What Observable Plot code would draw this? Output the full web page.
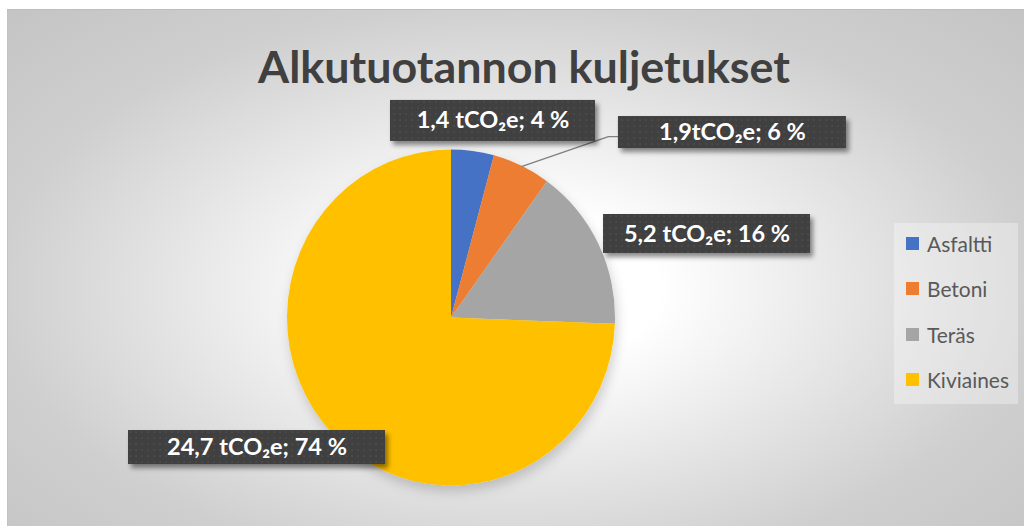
<!DOCTYPE html>
<html>
<head>
<meta charset="utf-8">
<script src="https://cdn.jsdelivr.net/npm/d3@7"></script>
<script src="https://cdn.jsdelivr.net/npm/@observablehq/plot@0.6"></script>
<style>
  html, body { margin: 0; padding: 0; background: #ffffff; width: 1024px; height: 526px; overflow: hidden; }
  #panel {
    position: absolute; left: 7px; top: 9px; width: 1017px; height: 517px;
    background: radial-gradient(ellipse farthest-corner at 50% 54%, #ffffff 0%, #ffffff 20%, #e3e3e3 50%, #cfcfcf 72%, #c4c4c4 100%);
    box-shadow: inset 0 1px 0 #bdbdbd, inset 1px 0 0 #c2c2c2;
  }
  #title {
    position: absolute; top: 30px; white-space: nowrap;
    font-family: Lato, "Noto Sans", sans-serif; font-weight: bold; color: #404040;
    transform: translateX(-50%);
  }
  #chart { position: absolute; left: 0; top: 0; }
  #legend {
    position: absolute; left: 887px; top: 214px; width: 124px; height: 181px;
    background: rgba(255,255,255,0.32);
  }
  .li { position: absolute; left: 0; height: 24px; line-height: 24px; white-space: nowrap;
        font-family: Lato, "Noto Sans", sans-serif; color: #595959; }
  .sw { position: absolute; left: 12px; top: 5px; width: 13px; height: 13px; }
  .lt { position: absolute; left: 33px; top: 0; }
</style>
</head>
<body>
<svg width="0" height="0" style="position:absolute">
  <defs>
    <pattern id="dots" width="6" height="6" patternUnits="userSpaceOnUse">
      <rect width="6" height="6" fill="#404040"></rect>
      <rect x="2.5" y="2.5" width="1.2" height="1.2" fill="#575757"></rect>
    </pattern>
    <filter id="boxShadow" x="-10%" y="-30%" width="130%" height="190%">
      <feDropShadow dx="3" dy="4" stdDeviation="2.5" flood-color="#000" flood-opacity="0.45"></feDropShadow>
    </filter>
    <filter id="pieShadow" x="-20%" y="-20%" width="140%" height="150%">
      <feDropShadow dx="2" dy="6" stdDeviation="6" flood-color="#000" flood-opacity="0.18"></feDropShadow>
    </filter>
  </defs>
</svg>
<div id="panel">
  <div id="title">Alkutuotannon kuljetukset</div>
  <div id="chart"></div>
  <div id="legend"></div>
</div>
<script>
// ---- data ----
const categories = ["Asfaltti", "Betoni", "Teräs", "Kiviaines"];
const values = [1.4, 1.9, 5.2, 24.7];
const valueLabels = ["1,4 tCO₂e; 4 %", "1,9tCO₂e; 6 %", "5,2 tCO₂e; 16 %", "24,7 tCO₂e; 74 %"];
const colors = ["#4472C4", "#ED7D31", "#A5A5A5", "#FFC000"];
const titleText = "Alkutuotannon kuljetukset";

// ---- layout (pixels / pie-radius units) ----
const pie = { cx: 444, cy: 308.5, rx: 164, ry: 168 };
// label box centres in pie-radius units, sizes in px
const labelPos = [[0.253, 1.173], [1.713, 1.104], [1.558, 0.500], [-1.186, -0.771]];
const labelSize = [[205, 41], [228, 32], [207, 39], [257, 34]];
const FONT = 'Lato, "Noto Sans", sans-serif';

function fitSize(text, weight, target) {
  const c = document.createElement("canvas").getContext("2d");
  c.font = `${weight} 100px ${FONT}`;
  return 100 * target / c.measureText(text).width;
}

// title
const title = document.getElementById("title");
title.style.fontSize = fitSize(titleText, "bold", 532) + "px";
title.style.left = "517px";

// rows
const rows = categories.map((c, i) => ({ category: c, value: values[i], label: valueLabels[i] }));
const arcs = d3.pie().sort(null).value(d => d.value)(rows);

const labelRows = rows.map((r, i) => {
  const [lx, ly] = labelPos[i];
  const [w, h] = labelSize[i];
  return { ...r, lx, ly,
    x1: lx - w / 2 / pie.rx, x2: lx + w / 2 / pie.rx,
    y1: ly - h / 2 / pie.ry, y2: ly + h / 2 / pie.ry };
});

// leader line for Betoni
const b = arcs[1];
const bMid = (b.startAngle + b.endAngle) / 2;
const bRow = labelRows[1];
const leader = [
  { x: Math.sin(bMid), y: Math.cos(bMid) },
  { x: bRow.x1 - 10 / pie.rx, y: bRow.ly - 4 / pie.ry },
  { x: bRow.x1, y: bRow.ly - 4 / pie.ry }
];

const labelFont = fitSize(valueLabels[3], "bold", 180);

const plot = Plot.plot({
  width: 1017,
  height: 517,
  margin: 0,
  style: { background: "transparent", overflow: "visible" },
  x: { domain: [-1, 1], range: [pie.cx - pie.rx, pie.cx + pie.rx], axis: null },
  y: { domain: [-1, 1], range: [pie.cy + pie.ry, pie.cy - pie.ry], axis: null },
  color: { domain: categories, range: colors },
  marks: [
    // pie slices (custom render using Plot scales)
    Plot.dot(arcs, {
      x: d => Math.sin((d.startAngle + d.endAngle) / 2) * 0.5,
      y: d => Math.cos((d.startAngle + d.endAngle) / 2) * 0.5,
      fill: d => d.data.category,
      render(index, scales, values, dimensions, context) {
        const cx = scales.x(0), cy = scales.y(0);
        const rx = scales.x(1) - cx, ry = cy - scales.y(1);
        const arc = d3.arc().innerRadius(0).outerRadius(rx);
        const outer = d3.create("svg:g").attr("filter", "url(#pieShadow)");
        const g = outer.append("g").attr("transform", `translate(${cx},${cy}) scale(1,${ry / rx})`);
        g.selectAll("path").data(index).join("path")
          .attr("d", i => arc(arcs[i]))
          .attr("fill", i => values.fill[i]);
        return outer.node();
      }
    }),
    Plot.line(leader, { x: "x", y: "y", stroke: "#7f7f7f", strokeWidth: 1.3, curve: "linear" }),
    Plot.rect(labelRows, {
      x1: "x1", x2: "x2", y1: "y1", y2: "y2", fill: "url(#dots)",
      render(index, scales, values, dimensions, context, next) {
        const g = next(index, scales, values, dimensions, context);
        g.setAttribute("filter", "url(#boxShadow)");
        return g;
      }
    }),
    Plot.text(labelRows, {
      x: "lx", y: "ly", text: "label", fill: "white", fontWeight: "bold",
      fontSize: labelFont, fontFamily: FONT, textAnchor: "middle", lineAnchor: "middle"
    })
  ]
});
document.getElementById("chart").appendChild(plot);

// legend
const legend = document.getElementById("legend");
const legendFont = fitSize("Kiviaines", "normal", 82);
categories.forEach((c, i) => {
  const item = document.createElement("div");
  item.className = "li";
  item.style.top = (21 + i * 45.3 - 12) + "px";
  item.style.fontSize = legendFont + "px";
  item.innerHTML = `<span class="sw" style="background:${colors[i]}"></span><span class="lt"></span>`;
  item.querySelector(".lt").textContent = c;
  legend.appendChild(item);
});
</script>
</body>
</html>
